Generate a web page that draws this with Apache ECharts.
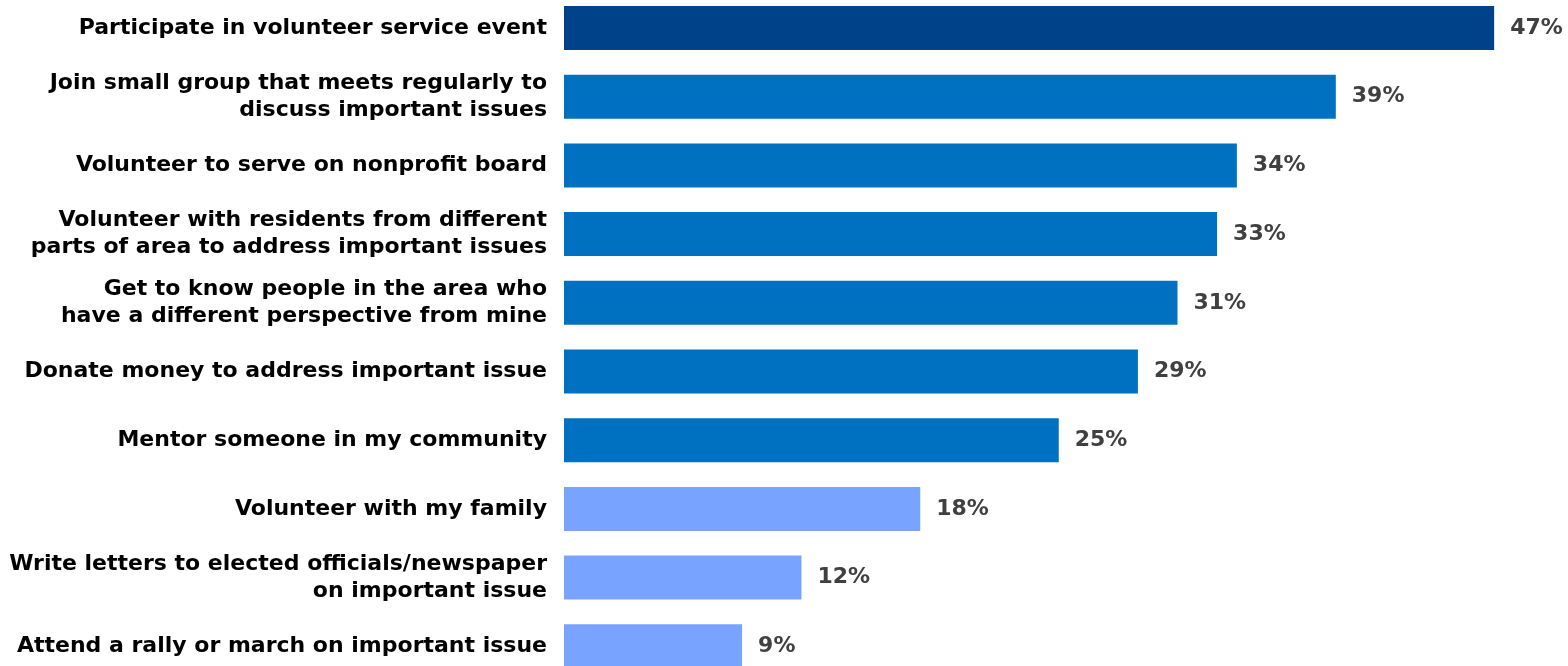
<!DOCTYPE html>
<html>
<head>
<meta charset="utf-8">
<script src="https://cdn.jsdelivr.net/npm/echarts@6/dist/echarts.min.js"></script>
<style>
html,body{margin:0;padding:0;background:#fff;overflow:hidden;width:1568px;height:666px;}
#chart{position:absolute;left:0;top:-20px;width:1568px;height:720px;}
</style>
</head>
<body>
<div id="chart"></div>
<script>
var categories = [
  "Participate in volunteer service event",
  "Join small group that meets regularly to\ndiscuss important issues",
  "Volunteer to serve on nonprofit board",
  "Volunteer with residents from different\nparts of area to address important issues",
  "Get to know people in the area who\nhave a different perspective from mine",
  "Donate money to address important issue",
  "Mentor someone in my community",
  "Volunteer with my family",
  "Write letters to elected officials/newspaper\non important issue",
  "Attend a rally or march on important issue"
];
var values = [47, 39, 34, 33, 31, 29, 25, 18, 12, 9];
var barColors = ["#00428A","#0070C0","#0070C0","#0070C0","#0070C0","#0070C0","#0070C0","#78A3FF","#78A3FF","#78A3FF"];

var chart = echarts.init(document.getElementById('chart'), null, {renderer:'canvas'});
chart.setOption({
  animation: false,
  backgroundColor: '#ffffff',
  grid: { left: 564, width: 989.5, top: 13.65, height: 687 },
  xAxis: { type: 'value', min: 0, max: 50, show: false },
  yAxis: {
    type: 'category', data: categories, inverse: true,
    axisLine: { show: false }, axisTick: { show: false },
    axisLabel: {
      margin: 17, color: '#000000', fontFamily: 'DejaVu Sans, sans-serif',
      fontWeight: 'bold', fontSize: 22, lineHeight: 27, align: 'right'
    }
  },
  series: [{
    type: 'bar', barWidth: '64%',
    data: values.map(function(v, i){ return { value: v, itemStyle: { color: barColors[i] } }; }),
    label: {
      show: true, position: 'right', distance: 16,
      formatter: '{c}%', color: '#404040', fontFamily: 'DejaVu Sans, sans-serif',
      fontWeight: 'bold', fontSize: 22
    }
  }]
});
</script>
</body>
</html>
